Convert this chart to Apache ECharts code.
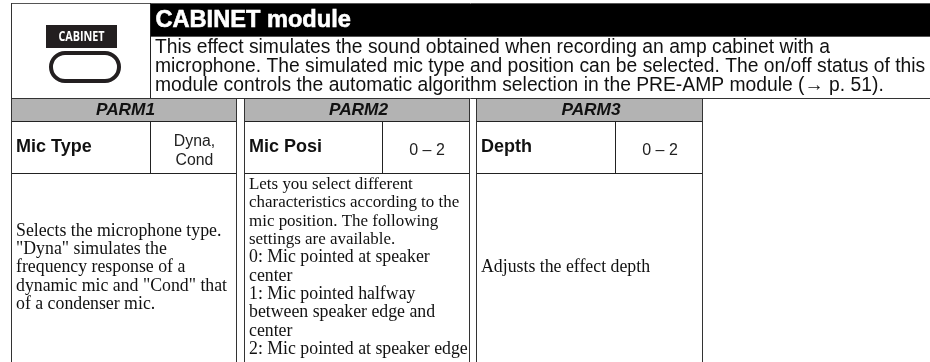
<!DOCTYPE html>
<html><head><meta charset="utf-8">
<style>html,body{margin:0;padding:0;background:#fff}#c{width:930px;height:362px}</style>
<script src="https://cdn.jsdelivr.net/npm/echarts@6/dist/echarts.min.js"></script>
</head><body><div id="c"></div>
<script>
const iconLabel = 'CABINET';
const title = 'CABINET module';
const descLines = [
  'This effect simulates the sound obtained when recording an amp cabinet with a',
  'microphone. The simulated mic type and position can be selected. The on/off status of this',
  'module controls the automatic algorithm selection in the PRE-AMP module (\u2192 p. 51).'
];
const parmHeaders = ['PARM1', 'PARM2', 'PARM3'];
const parmNames = ['Mic Type', 'Mic Posi', 'Depth'];
const parmRanges = [['Dyna,', 'Cond'], ['0 \u2013 2'], ['0 \u2013 2']];
const parmNotes = [
  ['Selects the microphone type.', '"Dyna" simulates the', 'frequency response of a', 'dynamic mic and "Cond" that', 'of a condenser mic.'],
  ['Lets you select different', 'characteristics according to the', 'mic position. The following', 'settings are available.', '0: Mic pointed at speaker', 'center', '1: Mic pointed halfway', 'between speaker edge and', 'center', '2: Mic pointed at speaker edge'],
  ['Adjusts the effect depth']
];

const sans = '"Liberation Sans", Arial, sans-serif';
const serif = '"Liberation Serif", "Times New Roman", serif';
const cols = [
  {l: 11, m: 150, r: 236},
  {l: 244, m: 382, r: 469},
  {l: 476, m: 615, r: 702}
];
const noteTops = [231, 184.5, 267.5];
const LINE = '#222';
const els = [];
const rect = (x, y, w, h, fill) => els.push({type: 'rect', silent: true, shape: {x, y, width: w, height: h}, style: {fill}});
const hl = (x1, x2, y, c = LINE, lw = 1) => els.push({type: 'line', silent: true, shape: {x1, y1: y, x2, y2: y}, style: {stroke: c, lineWidth: lw}});
const vl = (x, y1, y2, c = LINE, lw = 1) => els.push({type: 'line', silent: true, shape: {x1: x, y1, x2: x, y2}, style: {stroke: c, lineWidth: lw}});
const txt = (text, x, y, font, fill = '#111', align = 'left', extra = {}, sx = 1) => els.push({type: 'text', silent: true, x, y, scaleX: sx, style: Object.assign({text, fill, font, textAlign: align, textVerticalAlign: 'middle'}, extra)});

// header
rect(150, 4, 780, 32, '#000');
hl(11, 930, 3.5, '#555');
hl(150, 930, 36.5, '#555');
hl(11, 930, 98.5, '#333');
vl(11.5, 3, 98, '#333');
vl(150.5, 3, 98, '#222');
txt(title, 155.5, 20, 'bold 23.6px ' + sans, '#fff', 'left', {stroke: '#fff', lineWidth: 0.6});
descLines.forEach((t, i) => txt(t, 155, 47.5 + i * 19, '19.3px ' + sans));

// icon
rect(46, 25, 71, 23, '#231f20');
txt(iconLabel, 81.5, 36.5, 'bold 15px "Open Sans", ' + sans, '#fff', 'center', {}, 0.72);
els.push({type: 'rect', silent: true, shape: {x: 51, y: 53, width: 68, height: 28, r: 14}, style: {fill: '#fff', stroke: '#231f20', lineWidth: 4}});

// columns
cols.forEach((c, i) => {
  rect(c.l, 99, c.r - c.l, 22, '#b3b3b3');
  hl(c.l, c.r + 1, 121.5);
  hl(c.l, c.r + 1, 173.5);
  hl(c.l, c.r + 1, 98.5, '#333');
  vl(c.l + 0.5, 98, 362, '#333');
  vl(c.r + 0.5, 98, 362, '#333');
  vl(c.m + 0.5, 121, 173, '#222');
  txt(parmHeaders[i], (c.l + c.r) / 2 + 2, 110, 'italic bold 17.3px ' + sans, '#111', 'center');
  txt(parmNames[i], c.l + 5, 147.5, 'bold 18px ' + sans);
  const rs = parmRanges[i];
  const cx = (c.m + c.r) / 2 + 1.5;
  if (rs.length > 1) rs.forEach((t, k) => txt(t, cx, 142 + k * 19, '15.8px ' + sans, '#222', 'center'));
  else txt(rs[0], cx, 151, '16px ' + sans, '#222', 'center');
  parmNotes[i].forEach((t, k) => {
    const size = (i === 1 && k < 4) ? 16.95 : 17.8;
    txt(t, c.l + 5, noteTops[i] + k * 18.33, size + 'px ' + serif);
  });
});

const chart = echarts.init(document.getElementById('c'), null, {renderer: 'canvas'});
chart.setOption({animation: false, backgroundColor: '#fff', graphic: {elements: els}});
</script></body></html>
